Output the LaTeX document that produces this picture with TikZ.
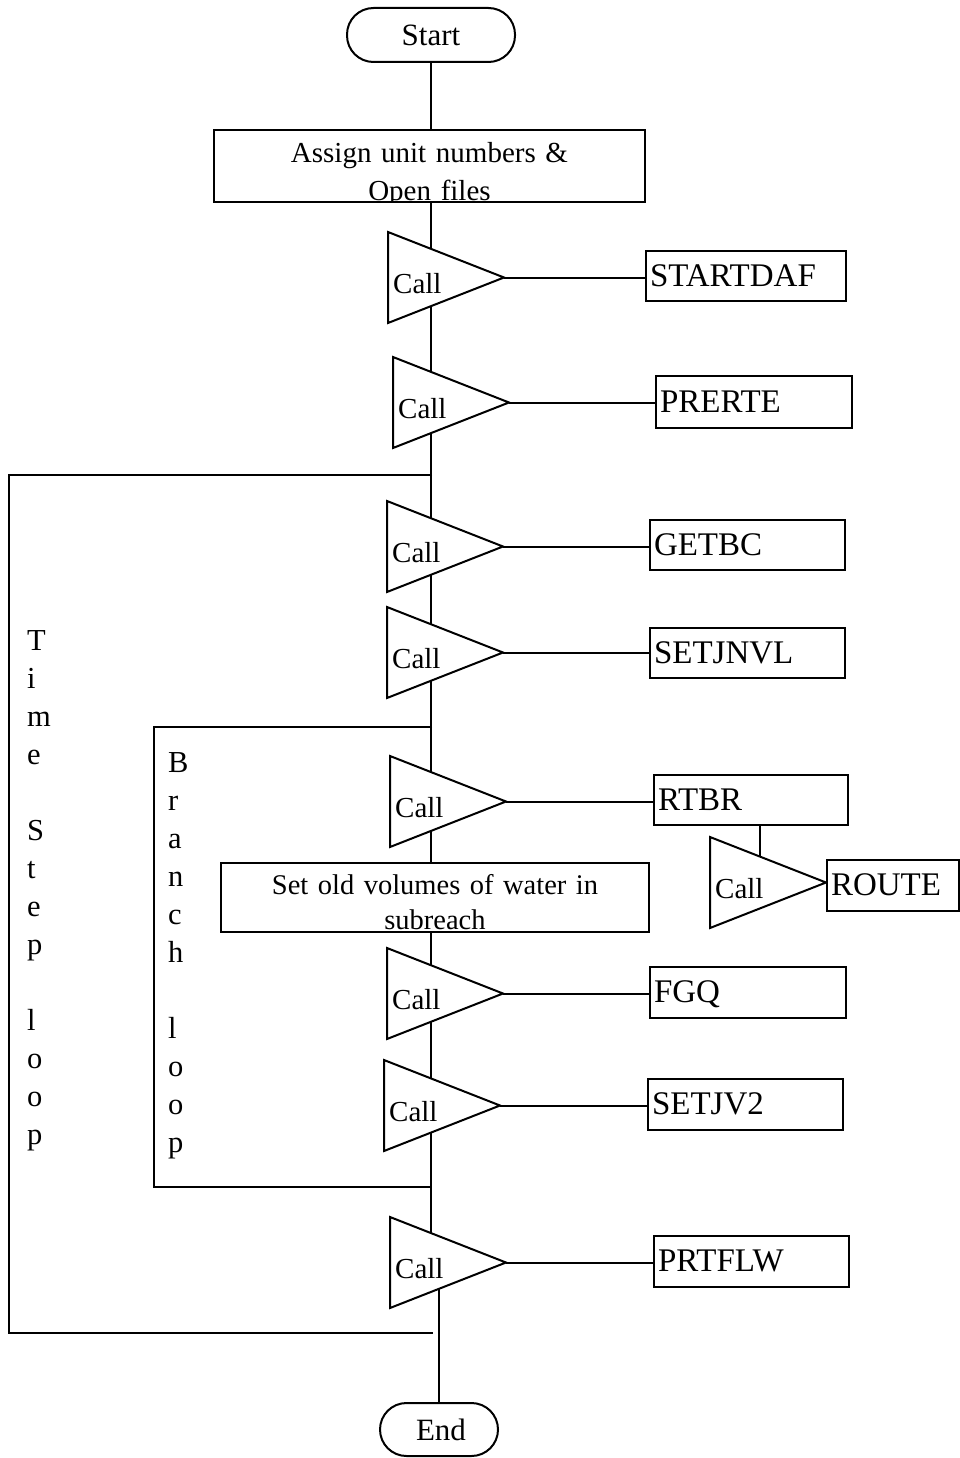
\documentclass[tikz,border=0pt]{standalone}
\usepackage{fontspec}
\setmainfont{Liberation Serif}
\pgfdeclarelayer{bg}
\pgfsetlayers{bg,main}
\tikzset{
  ln/.style={line width=2pt},
  term/.style={draw, ln, fill=white, rounded corners=26.5pt, inner sep=0pt, font=\fontsize{31}{35}\selectfont},
  subbox/.style={draw, ln, fill=white, anchor=north west, inner xsep=4pt, inner ysep=0pt, align=left,
    font=\fontsize{33}{37}\selectfont, text height=22pt, text depth=2pt},
  calltext/.style={inner sep=0pt, anchor=base west, font=\fontsize{29}{33}\selectfont},
  procbox/.style={draw, ln, fill=white, anchor=north west, inner sep=0pt},
  boxtext/.style={inner sep=0pt, anchor=base, align=center, text width=425pt, font=\fontsize{29}{#1}\selectfont},
  looptext/.style={inner sep=0pt, anchor=base west, align=left, text width=40pt, font=\fontsize{30.5}{38}\selectfont},
}
\newcommand\callblock[3]{%
  \coordinate (#1-tl) at (#2,#3);
  \coordinate (#1-bl) at (#2,#3+91);
  \coordinate (#1-tip) at (#2+116,#3+45.5);
  \draw[ln, fill=white] (#1-tl) -- (#1-tip) -- (#1-bl) -- cycle;
  \node[calltext] (#1-call) at (#2+5,#3+61) {Call};
}
\begin{document}
\begin{tikzpicture}[x=1pt,y=-1pt]
\useasboundingbox (0,0) rectangle (960,1458);

% terminals
\node[term, minimum width=168pt, minimum height=54pt] (start) at (431,35) {Start};
\node[term, minimum width=118pt, minimum height=53pt] (end) at (439,1429.5) {\hspace*{4pt}End};

% process boxes
\node[procbox, minimum width=431pt, minimum height=72pt,
  path picture={\node[boxtext=38] at ([yshift=-33pt]path picture bounding box.north) {Assign unit numbers \&\\Open files};}]
  (assign) at (213,129) {};
\node[procbox, minimum width=428pt, minimum height=69pt,
  path picture={\node[boxtext=35, font=\fontsize{28.5}{35}\selectfont] at ([yshift=-31pt]path picture bounding box.north) {Set old volumes of water in\\subreach};}]
  (setold) at (220,862) {};

% call triangles
\callblock{t1}{388}{232}
\callblock{t2}{393}{357}
\callblock{t3}{387}{501}
\callblock{t4}{387}{607}
\callblock{t5}{390}{756}
\callblock{t6}{710}{837}
\callblock{t7}{387}{948}
\callblock{t8}{384}{1060}
\callblock{t9}{390}{1217}

% subroutine boxes
\node[subbox, text width=192pt, minimum height=50pt] (startdaf) at (645,250) {STARTDAF};
\node[subbox, text width=188pt, minimum height=52pt] (prerte) at (655,375) {PRERTE};
\node[subbox, text width=187pt, minimum height=50pt] (getbc) at (649,519) {GETBC};
\node[subbox, text width=187pt, minimum height=50pt] (setjnvl) at (649,627) {SETJNVL};
\node[subbox, text width=186pt, minimum height=50pt] (rtbr) at (653,774) {RTBR};
\node[subbox, text width=124pt, minimum height=51pt] (route) at (826,859) {ROUTE};
\node[subbox, text width=188pt, minimum height=51pt] (fgq) at (649,966) {FGQ};
\node[subbox, text width=187pt, minimum height=51pt] (setjv2) at (647,1078) {SETJV2};
\node[subbox, text width=187pt, minimum height=51pt] (prtflw) at (653,1235) {PRTFLW};

% loop labels
\node[looptext] (tslabel) at (27,650) {T\\i\\m\\e\\~\\S\\t\\e\\p\\~\\l\\o\\o\\p};
\node[looptext] (brlabel) at (168,772) {B\\r\\a\\n\\c\\h\\~\\l\\o\\o\\p};

% loop junctions
\coordinate (ts-top) at (432,475);
\coordinate (ts-bot) at (433,1333);
\coordinate (br-top) at (432,727);
\coordinate (br-bot) at (432,1187);
\coordinate (t6-stem) at (760,870);

\begin{pgfonlayer}{bg}
  \draw[ln] (start.south) -- (start.south |- t9-tip) -- (end.north |- t9-tip) -- (end.north);
  \draw[ln] (ts-top) -- ++(-423,0) |- (ts-bot);
  \draw[ln] (br-top) -- ++(-278,0) |- (br-bot);
  \draw[ln] (t1-tip) -- (t1-tip -| startdaf.west);
  \draw[ln] (t2-tip) -- (t2-tip -| prerte.west);
  \draw[ln] (t3-tip) -- (t3-tip -| getbc.west);
  \draw[ln] (t4-tip) -- (t4-tip -| setjnvl.west);
  \draw[ln] (t5-tip) -- (t5-tip -| rtbr.west);
  \draw[ln] (rtbr.south -| t6-stem) -- (t6-stem);
  \draw[ln] (t6-tip) -- (t6-tip -| route.west);
  \draw[ln] (t7-tip) -- (t7-tip -| fgq.west);
  \draw[ln] (t8-tip) -- (t8-tip -| setjv2.west);
  \draw[ln] (t9-tip) -- (t9-tip -| prtflw.west);
\end{pgfonlayer}
\end{tikzpicture}
\end{document}
